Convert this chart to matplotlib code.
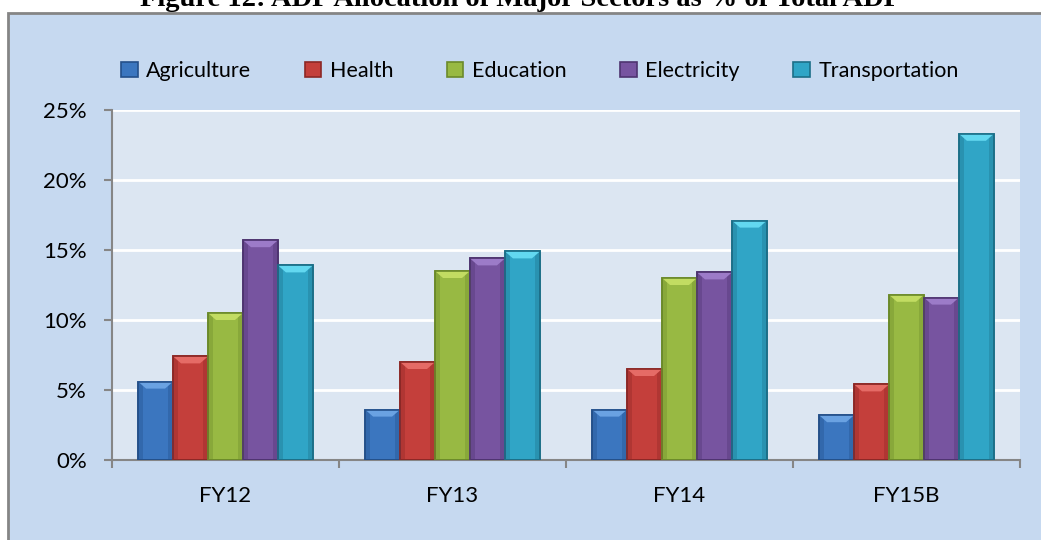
import matplotlib
matplotlib.use("Agg")
import matplotlib.pyplot as plt
import numpy as np
from matplotlib.patches import Rectangle, Polygon
from matplotlib.ticker import FixedLocator, FuncFormatter

years = ["FY12", "FY13", "FY14", "FY15B"]
sectors = ["Agriculture", "Health", "Education", "Electricity", "Transportation"]
agriculture = [5.6, 3.6, 3.6, 3.2]
health = [7.4, 7.0, 6.5, 5.4]
education = [10.5, 13.5, 13.0, 11.8]
electricity = [15.7, 14.4, 13.4, 11.6]
transportation = [13.9, 14.9, 17.1, 23.3]

series = [agriculture, health, education, electricity, transportation]
face = ["#3B76BF", "#C43F3B", "#98B943", "#7754A0", "#30A5C6"]
edge = ["#24508A", "#8C2826", "#6B8A2A", "#4E3470", "#1C6F88"]
bevel = ["#6AA2E2", "#E56B66", "#C2DC62", "#9C7BC8", "#62D8F0"]

W, H, DPI = 1041, 540, 100
fig = plt.figure(figsize=(W / DPI, H / DPI), dpi=DPI)
fig.patch.set_facecolor("white")
plt.rcParams["font.family"] = ["Lato", "DejaVu Sans"]

# outer chart frame, runs off the right and bottom edges
fig.patches.append(Rectangle((8 / W, -0.05), 1.2, 1 - 13 / H + 0.05,
                             transform=fig.transFigure, facecolor="#C6D9F0",
                             edgecolor="#858585", lw=2, zorder=-10))

fig.text(0.5, 1 - 6 / H, "Figure 12: ADP Allocation of Major Sectors as % of Total ADP",
         ha="center", va="baseline", fontsize=20.5, fontweight="bold",
         family="Liberation Serif", color="black")

left, right, top, bottom = 112 / W, 1020 / W, 1 - 110 / H, 1 - 460 / H
ax = fig.add_axes([left, bottom, right - left, top - bottom])
ax.set_facecolor("#DCE6F2")

x = np.arange(len(years))
bw = 0.154
ax.set_xlim(-0.5, len(years) - 0.5)
ax.set_ylim(0, 25)

# pixel -> data scale for the bevel
px_x = (right - left) * W / len(years)
px_y = (top - bottom) * H / 25
bev_h = 7 / px_y
bev_w = 8 / px_x
shade_w = 5 / px_x

for i, vals in enumerate(series):
    xs = x + (i - 2) * bw
    ax.bar(xs, vals, width=bw, color=face[i], edgecolor=edge[i], lw=1.2,
           zorder=3, label=sectors[i])
    for xc, v in zip(xs, vals):
        x0, x1 = xc - bw / 2, xc + bw / 2
        # darker strips down the sides for a rounded look
        ax.add_patch(Rectangle((x0, 0), shade_w, v, facecolor=edge[i],
                               alpha=0.35, edgecolor="none", zorder=3.5))
        ax.add_patch(Rectangle((x1 - shade_w, 0), shade_w, v, facecolor=edge[i],
                               alpha=0.35, edgecolor="none", zorder=3.5))
        ax.add_patch(Polygon([(x0, v), (x1, v), (x1 - bev_w, v - bev_h),
                              (x0 + bev_w, v - bev_h)], closed=True,
                             facecolor=bevel[i], edgecolor="none", zorder=4))
        ax.add_patch(Rectangle((x0, 0), bw, v, facecolor="none",
                               edgecolor=edge[i], lw=1.2, zorder=5))

ax.set_yticks(np.arange(0, 26, 5))
ax.yaxis.set_major_formatter(FuncFormatter(lambda v, p: f"{v:.0f}%"))
ax.grid(axis="y", color="white", lw=2, zorder=1)
ax.set_axisbelow(True)

ax.xaxis.set_major_locator(FixedLocator(x))
ax.set_xticklabels(years)
ax.xaxis.set_minor_locator(FixedLocator(np.arange(-0.5, len(years), 1.0)))
ax.tick_params(axis="x", which="major", length=0, pad=19, labelsize=16)
ax.tick_params(axis="x", which="minor", length=6, width=1.5, color="#868686")
ax.tick_params(axis="y", length=6, width=1.5, color="#868686", pad=12, labelsize=16)

for s in ["top", "right"]:
    ax.spines[s].set_visible(False)
for s in ["left", "bottom"]:
    ax.spines[s].set_color("#868686")
    ax.spines[s].set_linewidth(1.5)

fig.legend(loc="center", bbox_to_anchor=(540 / W, 1 - 71 / H), ncol=5,
           frameon=False, fontsize=15.5, handlelength=0.75, handleheight=0.75,
           handletextpad=0.4, columnspacing=2.5)

fig.savefig("out.png", dpi=DPI)
